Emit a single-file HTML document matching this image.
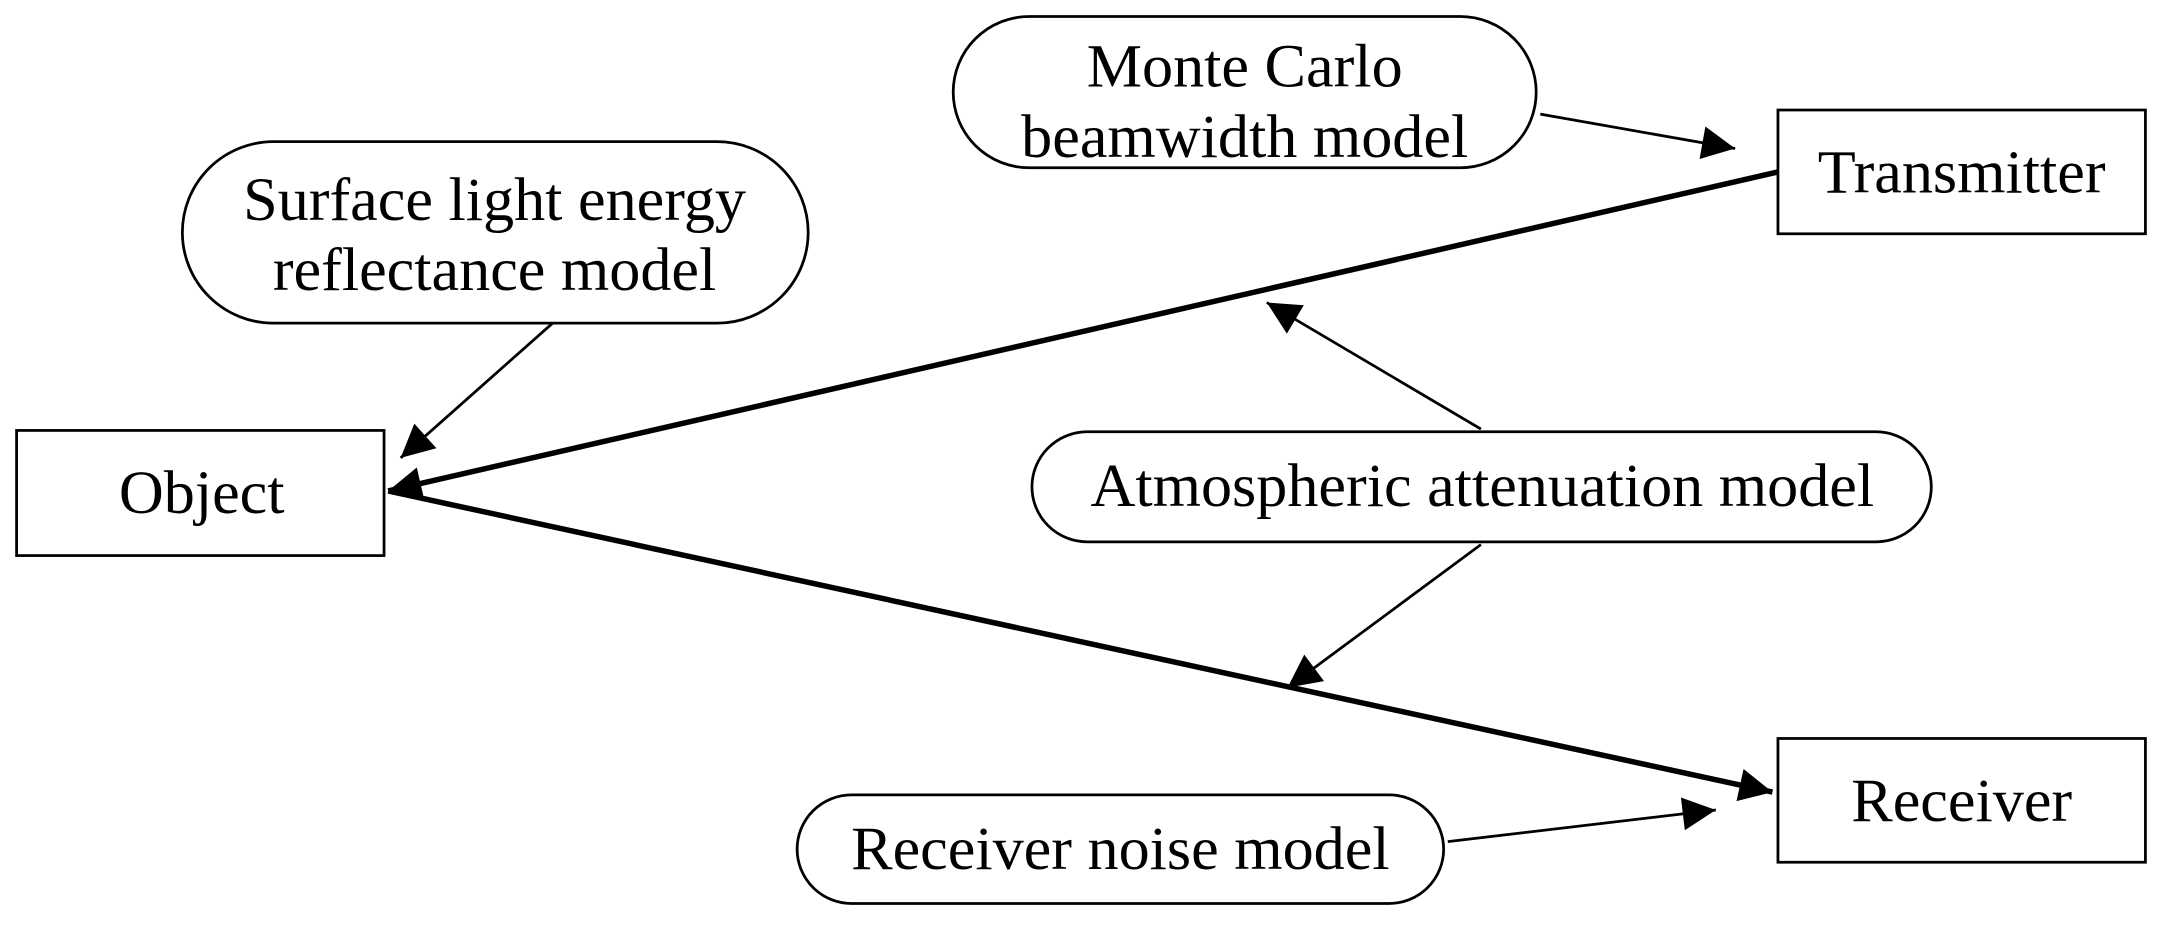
<!DOCTYPE html>
<html><head><style>
html,body{margin:0;padding:0;background:#fff;}
svg{display:block;}
text{font-family:"Liberation Serif",serif;font-size:45px;fill:#000;}
</style></head><body>
<svg width="2162" height="931" viewBox="0 0 1565 677" preserveAspectRatio="none" xmlns="http://www.w3.org/2000/svg">
<defs>
<marker id="a" viewBox="0 0 10 10" refX="10" refY="5" markerWidth="36" markerHeight="24" markerUnits="userSpaceOnUse" orient="auto"><path d="M0,0 L10,5 L0,10 z" fill="#000"/></marker>
</defs>
<g fill="#fff" stroke="#000" stroke-width="2">
<rect x="690" y="12" width="422" height="110" rx="55"/>
<rect x="132" y="103" width="453" height="132" rx="66"/>
<rect x="1287" y="80" width="266" height="90"/>
<rect x="12" y="313" width="266" height="91"/>
<rect x="747" y="314" width="651" height="80" rx="40"/>
<rect x="1287" y="537" width="266" height="90"/>
<rect x="577" y="578" width="468" height="79" rx="39.5"/>
</g>
<g stroke="#000" fill="none">
<line x1="1115" y1="83" x2="1256" y2="108" stroke-width="2" marker-end="url(#a)"/>
<line x1="400" y1="235" x2="290" y2="333" stroke-width="2" marker-end="url(#a)"/>
<line x1="1287" y1="125" x2="281" y2="357" stroke-width="4" marker-end="url(#a)"/>
<line x1="281" y1="357" x2="1283" y2="576" stroke-width="4" marker-end="url(#a)"/>
<line x1="1072" y1="312" x2="917" y2="220" stroke-width="2" marker-end="url(#a)"/>
<line x1="1072" y1="396" x2="932" y2="500" stroke-width="2" marker-end="url(#a)"/>
<line x1="1048" y1="612" x2="1242" y2="589" stroke-width="2" marker-end="url(#a)"/>
</g>
<g text-anchor="middle">
<text x="901" y="63">Monte Carlo</text>
<text x="901" y="114">beamwidth model</text>
<text x="358" y="160">Surface light energy</text>
<text x="358" y="211">reflectance model</text>
<text x="1420" y="140">Transmitter</text>
<text x="146" y="373">Object</text>
<text x="1073" y="368">Atmospheric attenuation model</text>
<text x="1420" y="597">Receiver</text>
<text x="811" y="632">Receiver noise model</text>
</g>
</svg>
</body></html>
